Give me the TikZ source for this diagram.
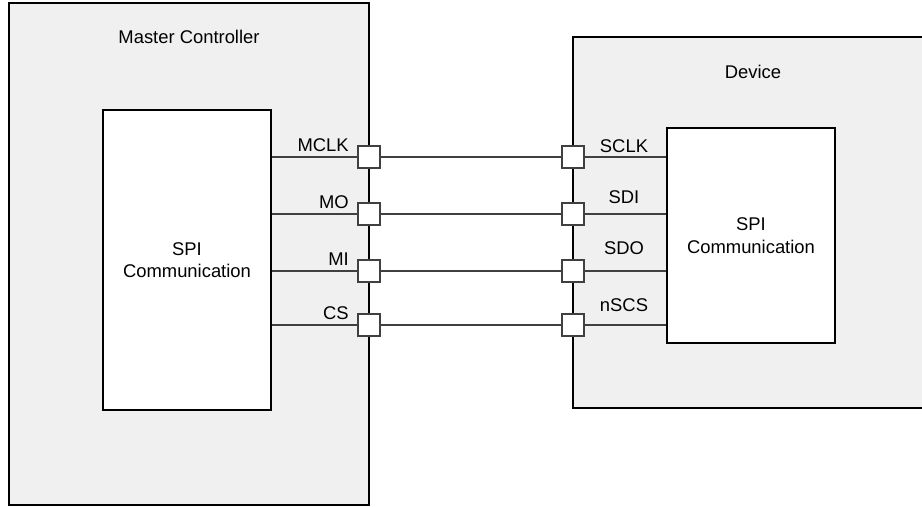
\documentclass[tikz,border=0pt]{standalone}
\usepackage{fontspec}
\setmainfont{Liberation Sans}
\definecolor{panel}{HTML}{F0F0F0}
\definecolor{wire}{HTML}{404040}

\begin{document}
\begin{tikzpicture}[x=0.75pt,y=-0.75pt,
  every node/.style={font=\fontsize{13.8}{17}\selectfont},
  block/.style={draw=black,line width=1.5pt,fill=panel},
  core/.style={draw=black,line width=1.5pt,fill=white,align=center},
  pin/.style={draw=wire,line width=1.1pt,fill=white,minimum size=16.5pt,inner sep=0pt},
  wireline/.style={draw=wire,line width=.9pt}]
\useasboundingbox (0,0) rectangle (922,507);
\clip (0,0) rectangle (922,507);
% master side
\node[block,minimum width=270pt,minimum height=376.5pt] (master) at (189,254) {};
\node (mastertitle) at (189,37) {Master Controller};
\node[core,minimum width=126pt,minimum height=225pt] (mspi) at (187,260) {SPI\\Communication};
% device side, runs off the right edge
\node[block,minimum width=276pt,minimum height=278.25pt] (dev) at (757,222.5) {};
\node (devtitle) at (753,72) {Device};
\node[core,minimum width=126pt,minimum height=161.25pt] (dspi) at (751,235.5) {SPI\\Communication};
% the four SPI lines with their pins
\foreach \i/\y/\m/\s/\sy in {1/157/MCLK/SCLK/146, 2/214/MO/SDI/197, 3/271/MI/SDO/248, 4/325/CS/nSCS/305} {
  \node[pin] (mp\i) at (369,\y) {};
  \node[pin] (dp\i) at (573,\y) {};
  \draw[wireline] (mspi.east |- mp\i) -- (mp\i.west);
  \draw[wireline] (mp\i.east) -- (dp\i.west);
  \draw[wireline] (dp\i.east) -- (dspi.west |- dp\i);
  \node[anchor=east,inner sep=0pt] (ml\i) at (349,\y-12) {\m};
  \node (dl\i) at (624,\sy) {\s};
}
\end{tikzpicture}
\end{document}
